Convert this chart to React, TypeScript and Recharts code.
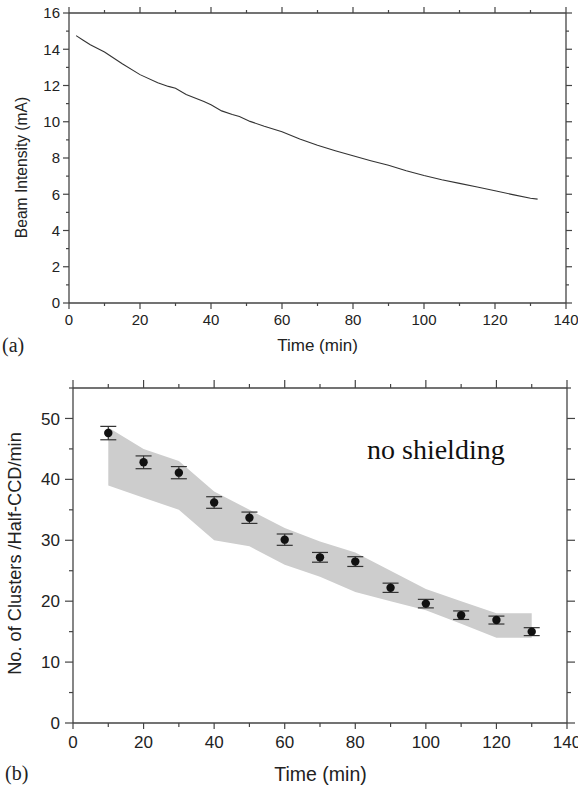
import React from "react";
import {
  LineChart,
  Line,
  ComposedChart,
  Area,
  Scatter,
  ErrorBar,
  XAxis,
  YAxis,
} from "recharts";

// (a) beam intensity vs time
const beamTime = [2, 4, 6, 10, 15, 20, 25, 28, 30, 33, 38, 40, 43, 46, 48, 51, 55, 60, 65, 70, 75, 80, 85, 90, 95, 100, 105, 110, 115, 120, 125, 130, 132];
const beamCurrent = [14.75, 14.5, 14.25, 13.85, 13.2, 12.6, 12.15, 11.95, 11.85, 11.5, 11.12, 10.94, 10.6, 10.4, 10.29, 10.02, 9.75, 9.45, 9.05, 8.7, 8.4, 8.12, 7.85, 7.6, 7.3, 7.03, 6.8, 6.6, 6.4, 6.19, 5.98, 5.78, 5.73];

// (b) clusters per half-CCD per minute
const clusterTime = [10, 20, 30, 40, 50, 60, 70, 80, 90, 100, 110, 120, 130];
const clusterRate = [47.6, 42.8, 41.1, 36.2, 33.7, 30.1, 27.2, 26.5, 22.2, 19.6, 17.7, 16.9, 15.0];
const clusterErr = [1.1, 1.05, 1.0, 0.95, 0.93, 0.93, 0.8, 0.8, 0.76, 0.7, 0.7, 0.65, 0.65];
const bandLow = [39, 37, 35, 30, 29, 26, 24, 21.5, 20, 18.5, 16.3, 14, 14];
const bandHigh = [48.5, 45, 43, 38, 35, 32, 29.8, 28, 25, 22, 20, 18, 18];

const timeTicks = [0, 10, 20, 30, 40, 50, 60, 70, 80, 90, 100, 110, 120, 130, 140];
const beamTicks = [0, 1, 2, 3, 4, 5, 6, 7, 8, 9, 10, 11, 12, 13, 14, 15, 16];
const clusterTicks = [0, 5, 10, 15, 20, 25, 30, 35, 40, 45, 50, 55];

const beamData = beamTime.map((t, i) => ({ t, mA: beamCurrent[i] }));
const clusterData = clusterTime.map((t, i) => ({
  t,
  v: clusterRate[i],
  err: clusterErr[i],
  band: [bandLow[i], bandHigh[i]],
}));

const SANS = "'Liberation Sans', Arial, sans-serif";
const SERIF = "'Liberation Serif', 'Times New Roman', serif";
const AXIS = "#444";

// draws tick line (major/minor) and optional label; axis set up with tickSize 0
const makeTick =
  (side: string, step: number, labels: boolean, big: number, small: number, fs: number, gap: number, base: number) =>
  (props: any) => {
    const { x, y, payload } = props;
    const v = payload.value;
    const major = Math.abs(v / step - Math.round(v / step)) < 1e-6;
    const len = major ? big : small;
    let line;
    let text = null;
    if (side === "bottom") {
      line = <line x1={x} y1={y} x2={x} y2={y + len} />;
      if (labels && major)
        text = <text x={x} y={y + base} textAnchor="middle">{v}</text>;
    } else if (side === "top") {
      line = <line x1={x} y1={y} x2={x} y2={y - len} />;
    } else if (side === "left") {
      line = <line x1={x} y1={y} x2={x - len} y2={y} />;
      if (labels && major)
        text = (
          <text x={x - big - gap} y={y} dy="0.36em" textAnchor="end">
            {v}
          </text>
        );
    } else {
      line = <line x1={x} y1={y} x2={x + len} y2={y} />;
    }
    return (
      <g>
        <g stroke={AXIS} strokeWidth={1.2}>{line}</g>
        {text && (
          <g fill="#222" fontSize={fs} fontFamily={SANS}>
            {text}
          </g>
        )}
      </g>
    );
  };

const axisLine = { stroke: AXIS, strokeWidth: 1.3 };

export default function App() {
  return (
    <div style={{ position: "absolute", left: 0, top: 0, width: 578, height: 787, background: "#fff" }}>
      <div style={{ position: "absolute", left: 0, top: 0 }}>
        <LineChart
          width={578}
          height={350}
          data={beamData}
          margin={{ top: 3, right: 2, bottom: 17, left: 29 }}
        >
          <XAxis
            xAxisId="b"
            dataKey="t"
            type="number"
            domain={[0, 140]}
            ticks={timeTicks}
            interval={0}
            height={30}
            tickSize={0}
            tickMargin={0}
            tickLine={false}
            axisLine={axisLine}
            tick={makeTick("bottom", 20, true, 6, 3, 15, 0, 22.4)}
          />
          <XAxis
            xAxisId="t"
            orientation="top"
            dataKey="t"
            type="number"
            domain={[0, 140]}
            allowDataOverflow
            ticks={timeTicks}
            interval={0}
            height={10}
            tickSize={0}
            tickMargin={0}
            tickLine={false}
            axisLine={axisLine}
            tick={makeTick("top", 20, false, 6, 3, 15, 0, 0)}
          />
          <YAxis
            yAxisId="l"
            type="number"
            domain={[0, 16]}
            ticks={beamTicks}
            interval={0}
            width={40}
            tickSize={0}
            tickMargin={0}
            tickLine={false}
            axisLine={axisLine}
            tick={makeTick("left", 2, true, 6, 3, 15, 3, 0)}
          />
          <YAxis
            yAxisId="r"
            orientation="right"
            type="number"
            domain={[0, 16]}
            allowDataOverflow
            ticks={beamTicks}
            interval={0}
            width={10}
            tickSize={0}
            tickMargin={0}
            tickLine={false}
            axisLine={axisLine}
            tick={makeTick("right", 2, false, 6, 3, 15, 0, 0)}
          />
          <Line
            xAxisId="b"
            yAxisId="l"
            type="linear"
            dataKey="mA"
            stroke="#333"
            strokeWidth={1.1}
            dot={false}
            isAnimationActive={false}
          />
        </LineChart>
      </div>

      <div style={{ position: "absolute", left: 0, top: 370 }}>
        <ComposedChart
          width={578}
          height={417}
          data={clusterData}
          margin={{ top: 8, right: 1, bottom: 24, left: 28 }}
        >
          <XAxis
            xAxisId="b"
            dataKey="t"
            type="number"
            domain={[0, 140]}
            ticks={timeTicks}
            interval={0}
            height={40}
            tickSize={0}
            tickMargin={0}
            tickLine={false}
            axisLine={axisLine}
            tick={makeTick("bottom", 20, true, 6, 4, 17, 0, 24.5)}
          />
          <XAxis
            xAxisId="t"
            orientation="top"
            dataKey="t"
            type="number"
            domain={[0, 140]}
            allowDataOverflow
            ticks={timeTicks}
            interval={0}
            height={10}
            tickSize={0}
            tickMargin={0}
            tickLine={false}
            axisLine={axisLine}
            tick={makeTick("top", 20, false, 8, 4, 17, 0, 0)}
          />
          <YAxis
            yAxisId="l"
            type="number"
            domain={[0, 55]}
            ticks={clusterTicks}
            interval={0}
            width={45}
            tickSize={0}
            tickMargin={0}
            tickLine={false}
            axisLine={axisLine}
            tick={makeTick("left", 10, true, 8, 4, 17, 5, 0)}
          />
          <YAxis
            yAxisId="r"
            orientation="right"
            type="number"
            domain={[0, 55]}
            allowDataOverflow
            ticks={clusterTicks}
            interval={0}
            width={10}
            tickSize={0}
            tickMargin={0}
            tickLine={false}
            axisLine={axisLine}
            tick={makeTick("right", 10, false, 8, 4, 17, 0, 0)}
          />
          <Area
            xAxisId="b"
            yAxisId="l"
            type="linear"
            dataKey="band"
            stroke="none"
            fill="#cdcdcd"
            fillOpacity={1}
            isAnimationActive={false}
          />
          <Scatter
            xAxisId="b"
            yAxisId="l"
            dataKey="v"
            fill="#111"
            isAnimationActive={false}
            shape={(p: any) => <circle cx={p.cx} cy={p.cy} r={4.2} fill="#111" />}
          >
            <ErrorBar dataKey="err" direction="y" width={8} stroke="#333" strokeWidth={1.2} />
          </Scatter>
        </ComposedChart>
      </div>

      <svg
        width={578}
        height={787}
        style={{ position: "absolute", left: 0, top: 0, pointerEvents: "none" }}
      >
        <text
          x={22}
          y={167.5}
          dy="0.35em"
          textAnchor="middle"
          transform="rotate(-90 22 167.5)"
          fontFamily={SANS}
          fontSize={15.6}
          fill="#222"
        >
          Beam Intensity (mA)
        </text>
        <text x={317.5} y={345} dy="0.35em" textAnchor="middle" fontFamily={SANS} fontSize={17} fill="#222">
          Time (min)
        </text>
        <text x={2} y={345} dy="0.35em" fontFamily={SERIF} fontSize={20} fill="#222">
          (a)
        </text>
        <text
          x={15}
          y={553.5}
          dy="0.35em"
          textAnchor="middle"
          transform="rotate(-90 15 553.5)"
          fontFamily={SANS}
          fontSize={18.2}
          fill="#222"
        >
          No. of Clusters /Half-CCD/min
        </text>
        <text x={320.5} y={774} dy="0.35em" textAnchor="middle" fontFamily={SANS} fontSize={19.5} fill="#222">
          Time (min)
        </text>
        <text x={5} y={773} dy="0.35em" fontFamily={SERIF} fontSize={20} fill="#222">
          (b)
        </text>
        <text x={367} y={459} fontFamily={SERIF} fontSize={28} fill="#111">
          no shielding
        </text>
      </svg>
    </div>
  );
}
